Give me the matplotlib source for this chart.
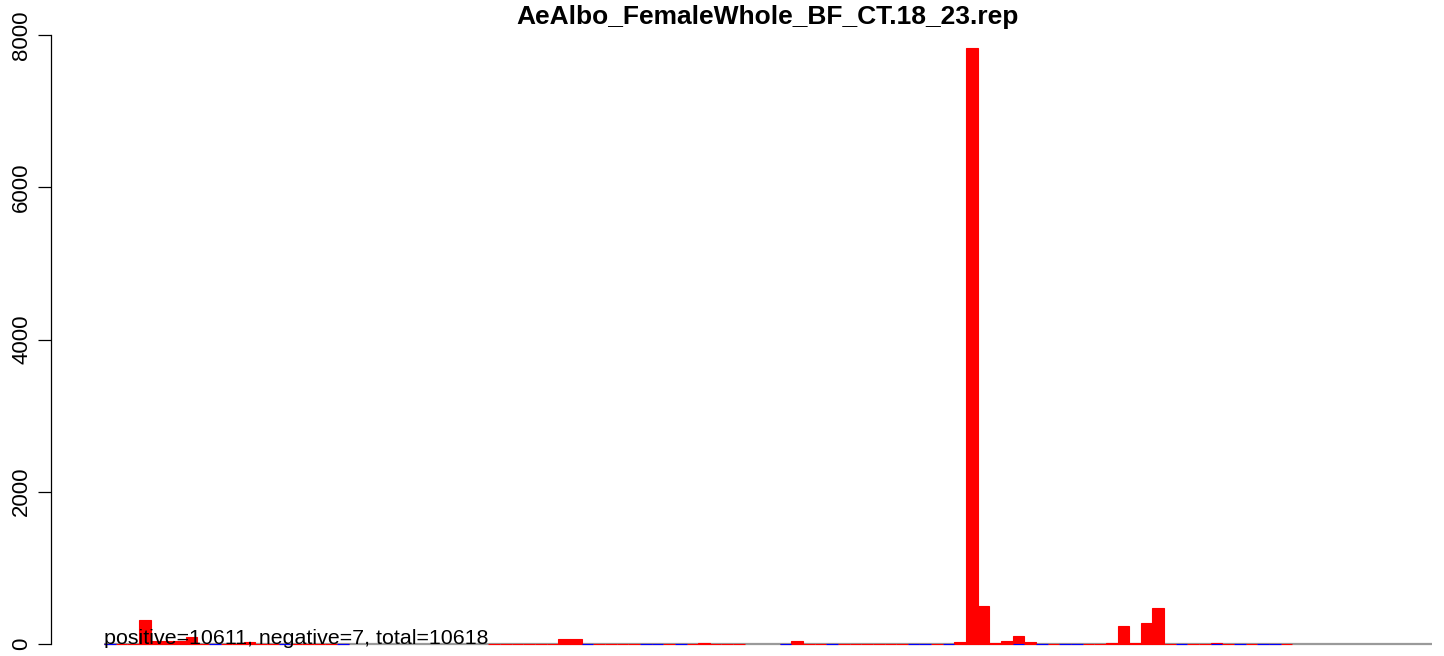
import matplotlib
matplotlib.use("Agg")
import matplotlib.pyplot as plt
import numpy as np

plt.rcParams['font.family'] = ['Liberation Sans', 'DejaVu Sans']

title = "AeAlbo_FemaleWhole_BF_CT.18_23.rep"
note = "positive=10611, negative=7, total=10618"

# red (positive) counts per bin, None = bin not drawn
pos = [0, 0, 0, 315, 43, 43, 43, 96, 0, 0,
       0, 0, 20, 0, 0, 0, 0, 0, 0, 0,
       0, None, None, None, None, None, None, None, None, None,
       None, None, None, 0, 0, 0, 0, 0, 0, 66,
       66, 0, 0, 0, 0, 0, 0, 0, 0, 0,
       0, 15, 0, 0, 0, None, None, None, 0, 40,
       0, 0, 0, 0, 0, 0, 0, 0, 0, 0,
       0, 0, 0, 20, 7830, 503, 17, 43, 105, 26,
       0, 0, 0, 0, 0, 0, 17, 240, 17, 276,
       473, 0, 0, 0, 0, 15, 0, 0, 0, 0,
       0, 0, None, None, None, None, None, None, None, None,
       None, None, None, None]

# blue (negative) counts per bin
neg_bins = [0, 9, 15, 20, 41, 46, 47, 49, 58, 62, 69, 70, 72, 78, 80, 82, 83, 92, 95, 97, 99, 100]
neg_vals = [0, 0, 0, 0, 1, 1, 0, 0, 1, 1, 0, 0, 0, 1, 0, 0, 0, 1, 0, 0, 1, 0]

N = len(pos)

# layout in pixels (figure 1444 x 656)
W, H = 1444, 656
left_px = 50.9
right_px = 1485.2
zero_px = 644.0
px_per_unit = 609.0 / 8000

ymin = -max(neg_vals)
ymax = max(v for v in pos if v is not None)
pad = 0.04 * (ymax - ymin)
ylo, yhi = ymin - pad, ymax + pad
bottom_px = zero_px + (0 - ylo) * px_per_unit
top_px = zero_px - (yhi - 0) * px_per_unit

fig = plt.figure(figsize=(W / 100, H / 100), dpi=100)
ax = fig.add_axes([left_px / W, (H - bottom_px) / H,
                   (right_px - left_px) / W, (bottom_px - top_px) / H])

# grey baseline under all bins
ax.hlines(0, 0, N, color='#9a9a9a', linewidth=1.6, zorder=1)

xs = [i for i in range(N) if pos[i] is not None]
hs = [pos[i] for i in xs]
ax.bar(xs, hs, width=1, align='edge', color='#FF0000', edgecolor='#FF0000',
       linewidth=0.8, zorder=2)
ax.bar(neg_bins, [-v for v in neg_vals], width=1, align='edge', color='#0000FF',
       edgecolor='#0000FF', linewidth=0.8, zorder=3)

ax.set_xlim(-0.04 * N, 1.04 * N)
ax.set_ylim(ylo, yhi)

for s in ['top', 'right', 'bottom']:
    ax.spines[s].set_visible(False)
ax.spines['left'].set_bounds(0, 8000)
ax.spines['left'].set_linewidth(0.9)
ax.set_xticks([])
ax.set_yticks([0, 2000, 4000, 6000, 8000])
ax.tick_params(axis='y', length=9.6, width=0.9, pad=4, labelsize=16, labelrotation=90)
for lab in ax.get_yticklabels():
    lab.set_verticalalignment('center')

ax.text(0, 0, note, ha='left', va='baseline', fontsize=15.4, color='black', zorder=4)
fig.text(768 / W, 1 - 24 / H, title, ha='center', va='baseline',
         fontsize=19, fontweight='bold')

fig.savefig("out.png", dpi=100)
